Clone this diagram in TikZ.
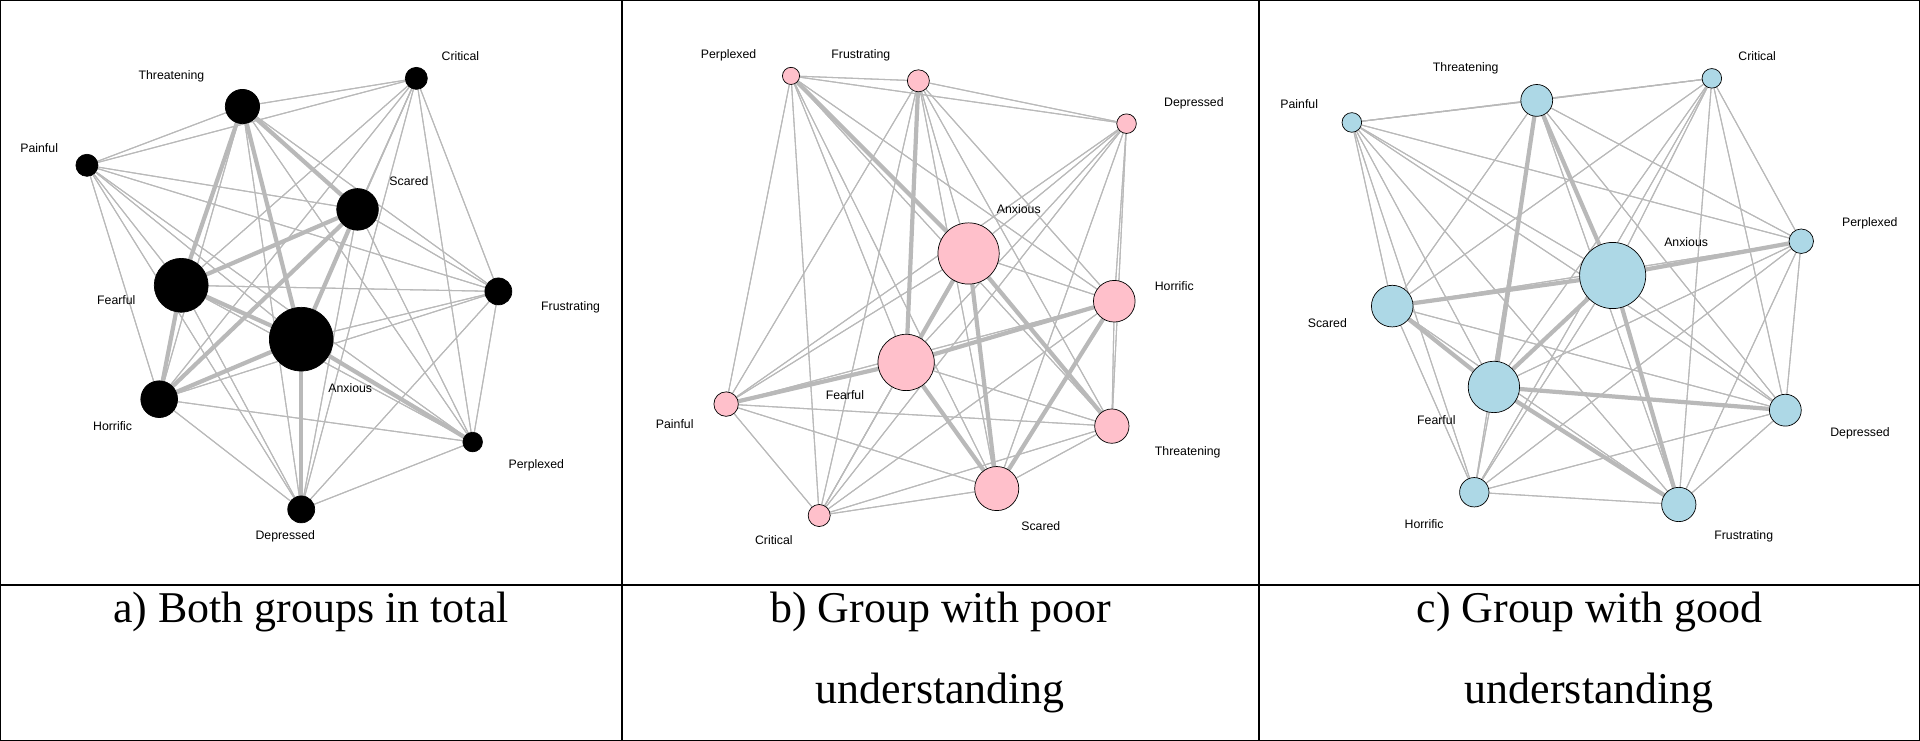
\documentclass[tikz,border=0pt]{standalone}
\usepackage{fontspec}
\setmainfont{Liberation Serif}
\newfontfamily\lblfont{Liberation Sans}
\usetikzlibrary{backgrounds}
\definecolor{lightblu}{HTML}{ADD8E6}
\definecolor{lightpnk}{HTML}{FFC0CB}
\tikzset{
  vtx/.style={circle,draw=black,thin,inner sep=0pt,minimum size=#1*0.049cm},
  lbl/.style={font=\lblfont\fontsize{7}{8}\selectfont},
  captxt/.style={font=\fontsize{25}{30}\selectfont},
  edge/.style={draw=gray!55,line width=0.6pt},
  bold/.style={draw=gray!55,line width=2.4pt}
}
\begin{document}
\begin{tikzpicture}[x=0.02449cm,y=-0.02449cm]
\useasboundingbox (0,0) rectangle (1568,605);
% frame
\draw[line width=1pt] (0,0) rectangle (1568,605);
\draw[line width=1pt] (508,0) -- (508,605);
\draw[line width=1pt] (1028,0) -- (1028,605);
\draw[line width=1pt] (0,478) -- (1568,478);

% panel a
\foreach \n/\x/\y/\r in {Thr/198/87/14, Cri/340/64/9, Pai/71/135/9, Sca/292/171/17, Fea/148/233/22,
  Fru/407/238/11, Anx/246/277/26, Hor/130/326/15, Per/386/361/8, Dep/246/416/11}
  \node[vtx=\r,fill=black] (a-\n) at (\x,\y) {};
\node[lbl] (a-Thr-l) at (140,62) {Threatening};
\node[lbl] (a-Cri-l) at (376,46) {Critical};
\node[lbl] (a-Pai-l) at (32,121) {Painful};
\node[lbl] (a-Sca-l) at (334,148) {Scared};
\node[lbl] (a-Fea-l) at (95,245) {Fearful};
\node[lbl] (a-Fru-l) at (466,251) {Frustrating};
\node[lbl] (a-Anx-l) at (286,317) {Anxious};
\node[lbl] (a-Hor-l) at (92,348) {Horrific};
\node[lbl] (a-Per-l) at (438,380) {Perplexed};
\node[lbl] (a-Dep-l) at (233,438) {Depressed};

% panel b
\foreach \n/\x/\y/\r in {Per/646/62/7, Fru/750/66/9, Dep/920/101/8, Anx/791/207/25, Hor/910/246/17,
  Fea/740/296/23, Pai/593/330/10, Thr/908/348/14, Sca/814/399/18, Cri/669/421/9}
  \node[vtx=\r,fill=lightpnk] (b-\n) at (\x,\y) {};
\node[lbl] (b-Per-l) at (595,45) {Perplexed};
\node[lbl] (b-Fru-l) at (703,45) {Frustrating};
\node[lbl] (b-Dep-l) at (975,84) {Depressed};
\node[lbl] (b-Anx-l) at (832,171) {Anxious};
\node[lbl] (b-Hor-l) at (959,234) {Horrific};
\node[lbl] (b-Fea-l) at (690,323) {Fearful};
\node[lbl] (b-Pai-l) at (551,346) {Painful};
\node[lbl] (b-Thr-l) at (970,369) {Threatening};
\node[lbl] (b-Sca-l) at (850,430) {Scared};
\node[lbl] (b-Cri-l) at (632,441) {Critical};

% panel c
\foreach \n/\x/\y/\r in {Thr/1255/82/13, Cri/1398/64/8, Pai/1104/100/8, Per/1471/197/10, Anx/1317/225/27,
  Sca/1137/250/17, Fea/1220/316/21, Dep/1458/335/13, Hor/1204/402/12, Fru/1371/412/14}
  \node[vtx=\r,fill=lightblu] (c-\n) at (\x,\y) {};
\node[lbl] (c-Thr-l) at (1197,56) {Threatening};
\node[lbl] (c-Cri-l) at (1435,46) {Critical};
\node[lbl] (c-Pai-l) at (1061,85) {Painful};
\node[lbl] (c-Per-l) at (1527,182) {Perplexed};
\node[lbl] (c-Anx-l) at (1377,198) {Anxious};
\node[lbl] (c-Sca-l) at (1084,264) {Scared};
\node[lbl] (c-Fea-l) at (1173,343) {Fearful};
\node[lbl] (c-Dep-l) at (1519,354) {Depressed};
\node[lbl] (c-Hor-l) at (1163,428) {Horrific};
\node[lbl] (c-Fru-l) at (1424,438) {Frustrating};

% edges
\begin{scope}[on background layer]
\foreach \p in {a,b,c}
  \foreach \u in {Thr,Cri,Pai,Sca,Fea,Fru,Anx,Hor,Per,Dep}
    \foreach \v in {Thr,Cri,Pai,Sca,Fea,Fru,Anx,Hor,Per,Dep}
      \draw[edge] (\p-\u) -- (\p-\v);
\foreach \u/\v in {Anx/Fea, Anx/Sca, Anx/Thr, Fea/Thr, Fea/Sca, Fea/Hor, Hor/Sca,
  Anx/Hor, Anx/Dep, Thr/Sca, Anx/Per}
  \draw[bold] (a-\u) -- (a-\v);
\foreach \u/\v in {Anx/Fea, Fea/Hor, Anx/Sca, Fea/Sca, Hor/Sca, Fru/Fea, Per/Anx,
  Anx/Thr, Pai/Fea}
  \draw[bold] (b-\u) -- (b-\v);
\foreach \u/\v in {Anx/Sca, Anx/Fea, Thr/Anx, Fea/Fru, Anx/Fru, Fea/Dep, Thr/Fea,
  Anx/Per, Sca/Fea}
  \draw[bold] (c-\u) -- (c-\v);
\end{scope}

% captions
\node[captxt] (a-cap) at (254,500) {a) Both groups in total};
\node[captxt] (b-cap1) at (768,500) {b) Group with poor};
\node[captxt] (b-cap2) at (768,566) {understanding};
\node[captxt] (c-cap1) at (1298,500) {c) Group with good};
\node[captxt] (c-cap2) at (1298,566) {understanding};
\end{tikzpicture}
\end{document}
